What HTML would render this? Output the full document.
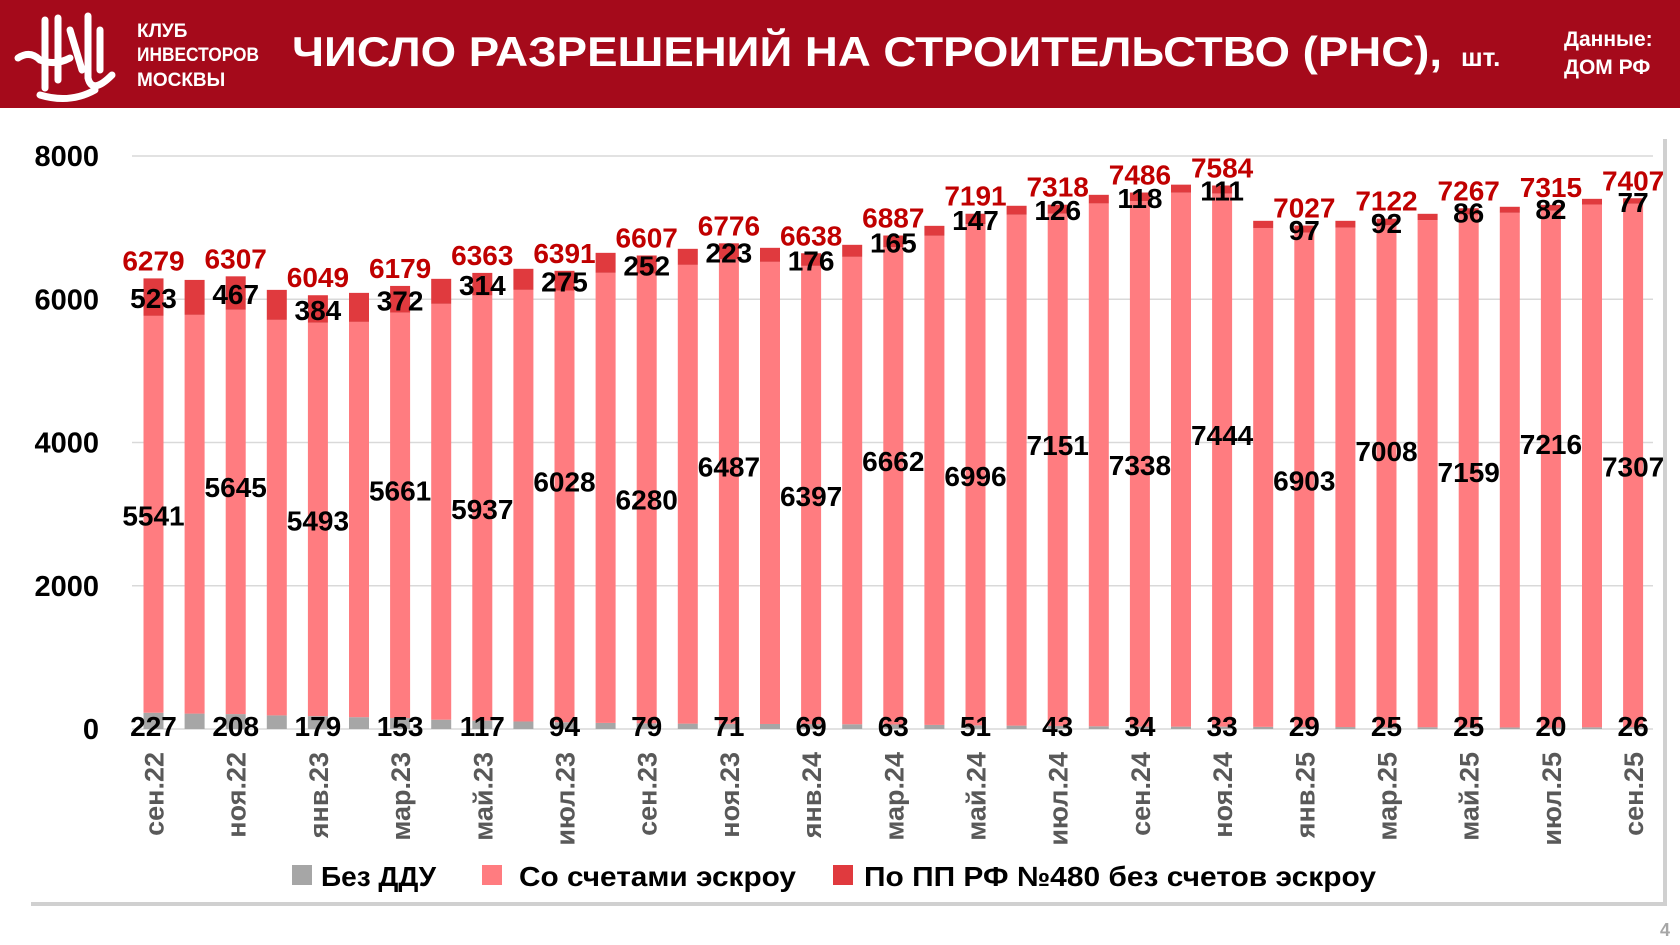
<!DOCTYPE html>
<html><head><meta charset="utf-8">
<style>
html,body{margin:0;padding:0;background:#fff;width:1680px;height:945px;overflow:hidden}
svg text{font-family:"Liberation Sans",sans-serif}
</style></head>
<body>
<svg id="chart" width="1680" height="945" viewBox="0 0 1680 945" xmlns="http://www.w3.org/2000/svg">
  <rect x="0" y="0" width="1680" height="108" fill="#a50a1b"/>
  <g fill="none" stroke="#fff" stroke-width="7" stroke-linecap="round">
    <path d="M18 58 Q30 50 40 60 Q55 66 70 58"/>
    <path d="M45 20 L45 88"/><path d="M58 18 L58 80"/>
    <path d="M70 30 L82 70"/><path d="M88 16 L88 78 Q92 95 112 75"/>
    <path d="M100 30 L100 70"/><path d="M40 95 Q70 104 95 90"/>
  </g>
  <text x="137" y="37" font-size="19" font-weight="bold" fill="#fff">КЛУБ</text>
  <text x="137" y="61" font-size="19" font-weight="bold" fill="#fff" textLength="122" lengthAdjust="spacingAndGlyphs">ИНВЕСТОРОВ</text>
  <text x="137" y="86" font-size="19" font-weight="bold" fill="#fff">МОСКВЫ</text>
  <text x="292" y="66" font-size="42" font-weight="bold" fill="#fff" textLength="1150" lengthAdjust="spacingAndGlyphs">ЧИСЛО РАЗРЕШЕНИЙ НА СТРОИТЕЛЬСТВО (РНС),</text>
  <text x="1461" y="66" font-size="26" font-weight="bold" fill="#fff">шт.</text>
  <text x="1564" y="46" font-size="21" font-weight="bold" fill="#fff">Данные:</text>
  <text x="1564" y="74" font-size="21" font-weight="bold" fill="#fff">ДОМ РФ</text>
  <rect x="31" y="139" width="1636" height="767" fill="#d0d0d0"/>
  <rect x="27" y="135" width="1636" height="767" fill="#fff"/>
  <g id="grid"></g>
  <g id="bars"></g>
  <g id="labels"></g>
  <g id="axes"></g>
  <g>
    <rect x="292" y="865" width="20" height="20" fill="#a6a6a6"/>
    <text x="321" y="886" font-size="28" font-weight="bold" fill="#000">Без ДДУ</text>
    <rect x="482" y="865" width="20" height="20" fill="#ff7c80"/>
    <text x="519" y="886" font-size="28" font-weight="bold" fill="#000" textLength="277" lengthAdjust="spacingAndGlyphs">Со счетами эскроу</text>
    <rect x="833" y="865" width="20" height="20" fill="#e03a3e"/>
    <text x="864" y="886" font-size="28" font-weight="bold" fill="#000" textLength="512" lengthAdjust="spacingAndGlyphs">По ПП РФ №480 без счетов эскроу</text>
  </g>
  <text x="1660" y="936" font-size="18" font-weight="bold" fill="#a6a6a6">4</text>
</svg>
<script>
const months = ["сен.22","окт.22","ноя.22","дек.22","янв.23","фев.23","мар.23","апр.23","май.23","июн.23","июл.23","авг.23","сен.23","окт.23","ноя.23","дек.23","янв.24","фев.24","мар.24","апр.24","май.24","июн.24","июл.24","авг.24","сен.24","окт.24","ноя.24","дек.24","янв.25","фев.25","мар.25","апр.25","май.25","июн.25","июл.25","авг.25","сен.25"];
const noDdu  = [227,215,208,190,179,165,153,130,117,105,94,85,79,75,71,70,69,66,63,57,51,47,43,38,34,33,33,30,29,27,25,25,25,22,20,24,26];
const escrow = [5541,5567,5645,5522,5493,5519,5661,5806,5937,6026,6028,6284,6280,6405,6487,6452,6397,6526,6662,6829,6996,7133,7151,7300,7338,7455,7444,6965,6903,6973,7008,7080,7159,7185,7216,7298,7307];
const pp480  = [523,488,467,419,384,405,372,349,314,294,275,279,252,224,223,196,176,168,165,139,147,125,126,120,118,112,111,100,97,95,92,88,86,84,82,80,77];
const totals = [6279,6270,6307,6131,6049,6089,6179,6285,6363,6425,6391,6648,6607,6704,6776,6718,6638,6760,6887,7025,7191,7305,7318,7460,7486,7600,7584,7095,7027,7095,7122,7193,7267,7291,7315,7402,7407];
const yTicks = [0,2000,4000,6000,8000];

const NS="http://www.w3.org/2000/svg";
const y0=729, yTop=156, yMax=8000;
const y = v => y0 - v/yMax*(y0-yTop);
const x = i => 153.5 + i*41.1;
const bw = 20;
function mk(tag, attrs, parent, txt){const e=document.createElementNS(NS,tag);for(const k in attrs)e.setAttribute(k,attrs[k]);if(txt!==undefined)e.textContent=txt;parent.appendChild(e);return e;}
const grid=document.getElementById('grid'), bars=document.getElementById('bars'), labels=document.getElementById('labels'), axes=document.getElementById('axes');

yTicks.forEach(t=>{
  const l=mk('line',{x1:132,x2:1653,y1:y(t),y2:y(t),stroke:'#d9d9d9','stroke-width':1.5},grid);
  
  
  const tx=mk('text',{x:99,y:y(t)+10,'text-anchor':'end','font-size':29,'font-weight':'bold',fill:'#000'},axes,String(t));
  
  
});

months.forEach((m,i)=>{
  const cx=x(i), a=noDdu[i], b=escrow[i], c=pp480[i];
  const r1=mk('rect',{x:cx-bw/2,y:y(a),width:bw,height:y0-y(a),fill:'#a6a6a6'},bars);
  
  
  const r2=mk('rect',{x:cx-bw/2,y:y(a+b),width:bw,height:y(a)-y(a+b),fill:'#ff7c80'},bars);
  
  
  const r3=mk('rect',{x:cx-bw/2,y:y(a+b+c),width:bw,height:y(a+b)-y(a+b+c),fill:'#e03a3e'},bars);
  
  
  if(i%2===0){
    const k=i/2;
    const tl=mk('text',{x:cx,y:y(a+b+c)-8,'text-anchor':'middle','font-size':28,'font-weight':'bold',fill:'#c00000'},labels,String(totals[i]));
    
    
    const pl=mk('text',{x:cx,y:(y(a+b)+y(a+b+c))/2+11,'text-anchor':'middle','font-size':28,'font-weight':'bold',fill:'#000'},labels,String(c));
    
    
    const el=mk('text',{x:cx,y:(y(a)+y(a+b))/2+11+(k%2===0?0:-26),'text-anchor':'middle','font-size':28,'font-weight':'bold',fill:'#000'},labels,String(b));
    
    
    const dl=mk('text',{x:cx,y:y0+7,'text-anchor':'middle','font-size':28,'font-weight':'bold',fill:'#000'},labels,String(a));
    
    
    const xl=mk('text',{x:0,y:0,'text-anchor':'end','font-size':27,'font-weight':'bold',fill:'#595959',transform:`translate(${cx+10},752) rotate(-90)`},axes,m);
    
    
  }
});
</script>
</body></html>
